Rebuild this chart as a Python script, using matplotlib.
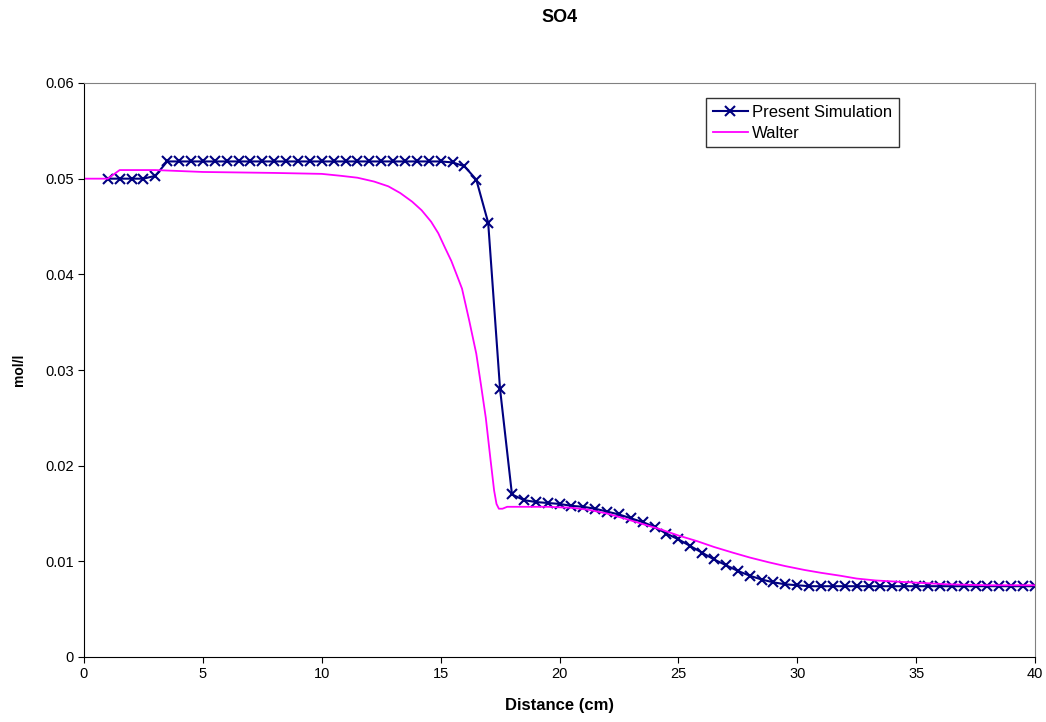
import matplotlib.pyplot as plt

plt.rcParams["font.family"] = ["Liberation Sans", "DejaVu Sans"]

NAVY = "#000080"
MAGENTA = "#FF00FF"

sim_x = [1.0, 1.5, 2.0, 2.5, 3.0, 3.5, 4.0, 4.5, 5.0, 5.5, 6.0, 6.5, 7.0, 7.5, 8.0, 8.5,
         9.0, 9.5, 10.0, 10.5, 11.0, 11.5, 12.0, 12.5, 13.0, 13.5, 14.0, 14.5, 15.0, 15.5,
         16.0, 16.5, 17.0, 17.5, 18.0, 18.5, 19.0, 19.5, 20.0, 20.5, 21.0, 21.5, 22.0, 22.5,
         23.0, 23.5, 24.0, 24.5, 25.0, 25.5, 26.0, 26.5, 27.0, 27.5, 28.0, 28.5, 29.0, 29.5,
         30.0, 30.5, 31.0, 31.5, 32.0, 32.5, 33.0, 33.5, 34.0, 34.5, 35.0, 35.5, 36.0, 36.5,
         37.0, 37.5, 38.0, 38.5, 39.0, 39.5, 40.0]
sim_y = [0.0500, 0.0500, 0.0500, 0.0500, 0.0503, 0.0518, 0.0518, 0.0518, 0.0518, 0.0518,
         0.0518, 0.0518, 0.0518, 0.0518, 0.0518, 0.0518, 0.0518, 0.0518, 0.0518, 0.0518,
         0.0518, 0.0518, 0.0518, 0.0518, 0.0518, 0.0518, 0.0518, 0.0518, 0.0518, 0.0517,
         0.0513, 0.0499, 0.0454, 0.0280, 0.0170, 0.0164, 0.0162, 0.0161, 0.0160, 0.0158,
         0.0157, 0.0155, 0.0152, 0.0149, 0.0145, 0.0141, 0.0136, 0.0129, 0.0123, 0.0116,
         0.0109, 0.0102, 0.0096, 0.0090, 0.0085, 0.0081, 0.0078, 0.0076, 0.0075, 0.0074,
         0.0074, 0.0074, 0.0074, 0.0074, 0.0074, 0.0074, 0.0074, 0.0074, 0.0074, 0.0074,
         0.0074, 0.0074, 0.0074, 0.0074, 0.0074, 0.0074, 0.0074, 0.0074, 0.0074]

walter_x = [0.0, 1.0, 1.5, 3.0, 5.0, 8.0, 10.0, 10.8, 11.5, 12.2, 12.8, 13.3, 13.8, 14.2,
            14.6, 14.9, 15.2, 15.45, 15.7, 15.9, 16.2, 16.5, 16.7, 16.9, 17.1, 17.25, 17.35,
            17.45, 17.6, 17.8, 18.0, 19.5, 20.5, 21.2, 22.0, 22.7, 23.5, 24.3, 25.0, 25.8,
            26.5, 27.3, 28.0, 28.8, 29.5, 30.3, 31.0, 31.8, 32.5, 33.3, 34.0, 34.8, 36.3,
            38.0, 40.0]
walter_y = [0.0500, 0.0500, 0.0509, 0.0509, 0.0507, 0.0506, 0.0505, 0.0503, 0.0501, 0.0497,
            0.0492, 0.0485, 0.0476, 0.0467, 0.0455, 0.0443, 0.0427, 0.0414, 0.0398, 0.0385,
            0.0352, 0.0317, 0.0284, 0.0250, 0.0206, 0.0174, 0.0160, 0.0155, 0.0155, 0.0157,
            0.0157, 0.0157, 0.0156, 0.0154, 0.0150, 0.0145, 0.0139, 0.0133, 0.0127, 0.0121,
            0.0115, 0.0109, 0.0104, 0.0099, 0.0095, 0.0091, 0.0088, 0.0085, 0.0082, 0.0080,
            0.0079, 0.0078, 0.0076, 0.0075, 0.0075]

x_ticks = [0, 5, 10, 15, 20, 25, 30, 35, 40]
y_ticks = [0, 0.01, 0.02, 0.03, 0.04, 0.05, 0.06]
y_labels = ["0", "0.01", "0.02", "0.03", "0.04", "0.05", "0.06"]

fig = plt.figure(figsize=(10.46, 7.22), dpi=100)
fig.patch.set_facecolor("white")
ax = fig.add_axes([84 / 1046, 65 / 722, 951 / 1046, 574 / 722])

ax.plot(sim_x, sim_y, color=NAVY, linewidth=1.5, marker="x", markersize=7,
        markeredgewidth=1.5, label="Present Simulation")
ax.plot(walter_x, walter_y, color=MAGENTA, linewidth=1.3, label="Walter")

ax.set_xlim(0, 40)
ax.set_ylim(0, 0.06)
ax.set_xticks(x_ticks)
ax.set_xticklabels([str(t) for t in x_ticks])
ax.set_yticks(y_ticks)
ax.set_yticklabels(y_labels)
ax.tick_params(labelsize=10.5, length=4, direction="out", colors="black")

for side in ["left", "bottom"]:
    ax.spines[side].set_color("black")
for side in ["top", "right"]:
    ax.spines[side].set_color("#808080")

fig.text(559.5 / 1046, 1 - 18 / 722, "SO4", fontsize=13, fontweight="bold",
         ha="center", va="center")
ax.set_xlabel("Distance (cm)", fontsize=12, fontweight="bold", labelpad=12)
ax.set_ylabel("mol/l", fontsize=10, fontweight="bold", labelpad=14)

leg = ax.legend(loc="upper left", bbox_to_anchor=(706 / 1046, 1 - 98 / 722),
                bbox_transform=fig.transFigure, fontsize=12, frameon=True,
                fancybox=False, borderpad=0.4, handlelength=2.1, handletextpad=0.25,
                labelspacing=0.35, borderaxespad=0)
leg.get_frame().set_edgecolor("black")
leg.get_frame().set_linewidth(1.0)

plt.savefig("out.png", dpi=100, facecolor="white")
plt.close()
